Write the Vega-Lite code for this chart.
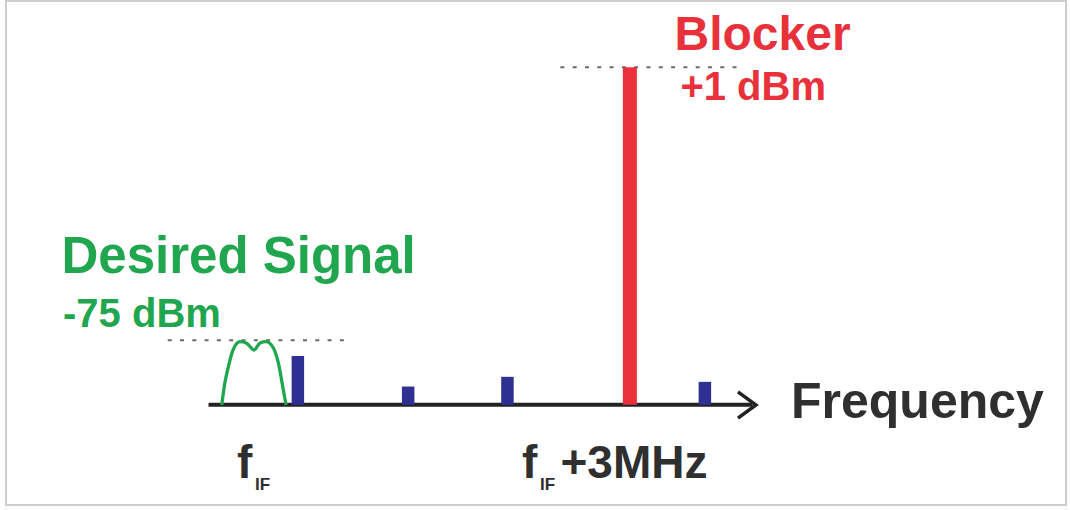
{
  "$schema": "https://vega.github.io/schema/vega-lite/v6.json",
  "width": 1060,
  "height": 504,
  "autosize": {"type": "none"},
  "padding": {"left": 6, "top": 1, "right": 4, "bottom": 5},
  "background": "white",
  "config": {"view": {"stroke": "#cdcdcd", "strokeWidth": 2}},
  "datasets": {
    "spurs": [
      {"f": 0.0, "dBm": -79.4, "floor": -93},
      {"f": 1.0, "dBm": -87.9, "floor": -93},
      {"f": 1.9, "dBm": -85.2, "floor": -93},
      {"f": 3.69, "dBm": -86.6, "floor": -93}
    ],
    "blocker": [{"f": 3.01, "dBm": 1, "floor": -93}],
    "axisline": [{"f1": -0.81, "f2": 4.12, "dBm": -93}],
    "arrow": [
      {"i": 0, "f": 3.99, "dBm": -89.4},
      {"i": 1, "f": 4.153, "dBm": -93.04},
      {"i": 2, "f": 3.99, "dBm": -96.7}
    ],
    "levels": [
      {"f1": 2.38, "f2": 4.0, "dBm": 1},
      {"f1": -1.18, "f2": 0.47, "dBm": -75}
    ],
    "desired": [
      {"f": -0.69, "dBm": -93.04},
      {"f": -0.665, "dBm": -87.47},
      {"f": -0.63, "dBm": -82.38},
      {"f": -0.588, "dBm": -77.73},
      {"f": -0.524, "dBm": -75.42},
      {"f": -0.464, "dBm": -75.87},
      {"f": -0.397, "dBm": -77.73},
      {"f": -0.343, "dBm": -75.78},
      {"f": -0.289, "dBm": -75.42},
      {"f": -0.222, "dBm": -77.17},
      {"f": -0.177, "dBm": -81.35},
      {"f": -0.137, "dBm": -87.95},
      {"f": -0.107, "dBm": -93.04}
    ],
    "labels": [
      {"text": "Blocker", "f": 3.415, "dBm": 5.78, "style": "redBig"},
      {"text": "+1 dBm", "f": 3.468, "dBm": -8.14, "style": "redSmall"},
      {"text": "Desired Signal", "f": -2.143, "dBm": -56.3, "style": "greenBig"},
      {"text": "-75 dBm", "f": -2.129, "dBm": -71.24, "style": "greenSmall"},
      {"text": "Frequency", "f": 4.471, "dBm": -96.66, "style": "freq"},
      {"text": "f", "f": -0.552, "dBm": -113.36, "style": "tick"},
      {"text": "f", "f": 2.032, "dBm": -113.36, "style": "tick"},
      {"text": "+3MHz", "f": 2.381, "dBm": -113.36, "style": "tick"},
      {"text": "IF", "f": -0.388, "dBm": -116.7, "style": "sub"},
      {"text": "IF", "f": 2.195, "dBm": -116.7, "style": "sub"}
    ]
  },
  "encoding": {
    "x": {"field": "f", "type": "quantitative", "scale": {"domain": [-2.646, 6.964], "nice": false, "zero": false}, "axis": null},
    "y": {"field": "dBm", "type": "quantitative", "scale": {"domain": [-120.88, 19.42], "nice": false, "zero": false}, "axis": null}
  },
  "layer": [
    {
      "data": {"name": "levels"},
      "mark": {"type": "rule", "color": "#6a6a6a", "strokeWidth": 2, "strokeDash": [4, 8.3]},
      "encoding": {
        "x": {"field": "f1", "type": "quantitative"},
        "x2": {"field": "f2"},
        "y": {"field": "dBm", "type": "quantitative"}
      }
    },
    {
      "data": {"name": "axisline"},
      "mark": {"type": "rule", "color": "#222222", "strokeWidth": 4},
      "encoding": {
        "x": {"field": "f1", "type": "quantitative"},
        "x2": {"field": "f2"},
        "y": {"field": "dBm", "type": "quantitative"}
      }
    },
    {
      "data": {"name": "arrow"},
      "mark": {"type": "line", "color": "#222222", "strokeWidth": 3.5, "strokeJoin": "miter", "strokeCap": "butt"},
      "encoding": {
        "order": {"field": "i", "type": "quantitative"}
      }
    },
    {
      "data": {"name": "desired"},
      "mark": {"type": "line", "color": "#1fa64f", "strokeWidth": 3.3, "interpolate": "monotone"},
      "encoding": {}
    },
    {
      "data": {"name": "spurs"},
      "mark": {"type": "rule", "color": "#2e3192", "strokeWidth": 12.5, "strokeCap": "butt"},
      "encoding": {
        "y2": {"field": "floor"}
      }
    },
    {
      "data": {"name": "blocker"},
      "mark": {"type": "rule", "color": "#e8313b", "strokeWidth": 14, "strokeCap": "butt"},
      "encoding": {
        "y2": {"field": "floor"}
      }
    },
    {
      "data": {"name": "labels"},
      "transform": [{"filter": "datum.style === 'redBig'"}],
      "mark": {"type": "text", "align": "left", "baseline": "alphabetic", "font": "Liberation Sans", "fontWeight": "bold", "fontSize": 48, "color": "#e8313b"},
      "encoding": {"text": {"field": "text"}}
    },
    {
      "data": {"name": "labels"},
      "transform": [{"filter": "datum.style === 'redSmall'"}],
      "mark": {"type": "text", "align": "left", "baseline": "alphabetic", "font": "Liberation Sans", "fontWeight": "bold", "fontSize": 40, "color": "#e8313b"},
      "encoding": {"text": {"field": "text"}}
    },
    {
      "data": {"name": "labels"},
      "transform": [{"filter": "datum.style === 'greenBig'"}],
      "mark": {"type": "text", "align": "left", "baseline": "alphabetic", "font": "Liberation Sans", "fontWeight": "bold", "fontSize": 51, "color": "#1fa64f"},
      "encoding": {"text": {"field": "text"}}
    },
    {
      "data": {"name": "labels"},
      "transform": [{"filter": "datum.style === 'greenSmall'"}],
      "mark": {"type": "text", "align": "left", "baseline": "alphabetic", "font": "Liberation Sans", "fontWeight": "bold", "fontSize": 40, "color": "#1fa64f"},
      "encoding": {"text": {"field": "text"}}
    },
    {
      "data": {"name": "labels"},
      "transform": [{"filter": "datum.style === 'freq'"}],
      "mark": {"type": "text", "align": "left", "baseline": "alphabetic", "font": "Liberation Sans", "fontWeight": "bold", "fontSize": 50, "color": "#2f2f2f"},
      "encoding": {"text": {"field": "text"}}
    },
    {
      "data": {"name": "labels"},
      "transform": [{"filter": "datum.style === 'tick'"}],
      "mark": {"type": "text", "align": "left", "baseline": "alphabetic", "font": "Liberation Sans", "fontWeight": "bold", "fontSize": 46, "color": "#2f2f2f"},
      "encoding": {"text": {"field": "text"}}
    },
    {
      "data": {"name": "labels"},
      "transform": [{"filter": "datum.style === 'sub'"}],
      "mark": {"type": "text", "align": "left", "baseline": "alphabetic", "font": "Liberation Sans", "fontWeight": "bold", "fontSize": 17, "color": "#2f2f2f"},
      "encoding": {"text": {"field": "text"}}
    }
  ]
}
